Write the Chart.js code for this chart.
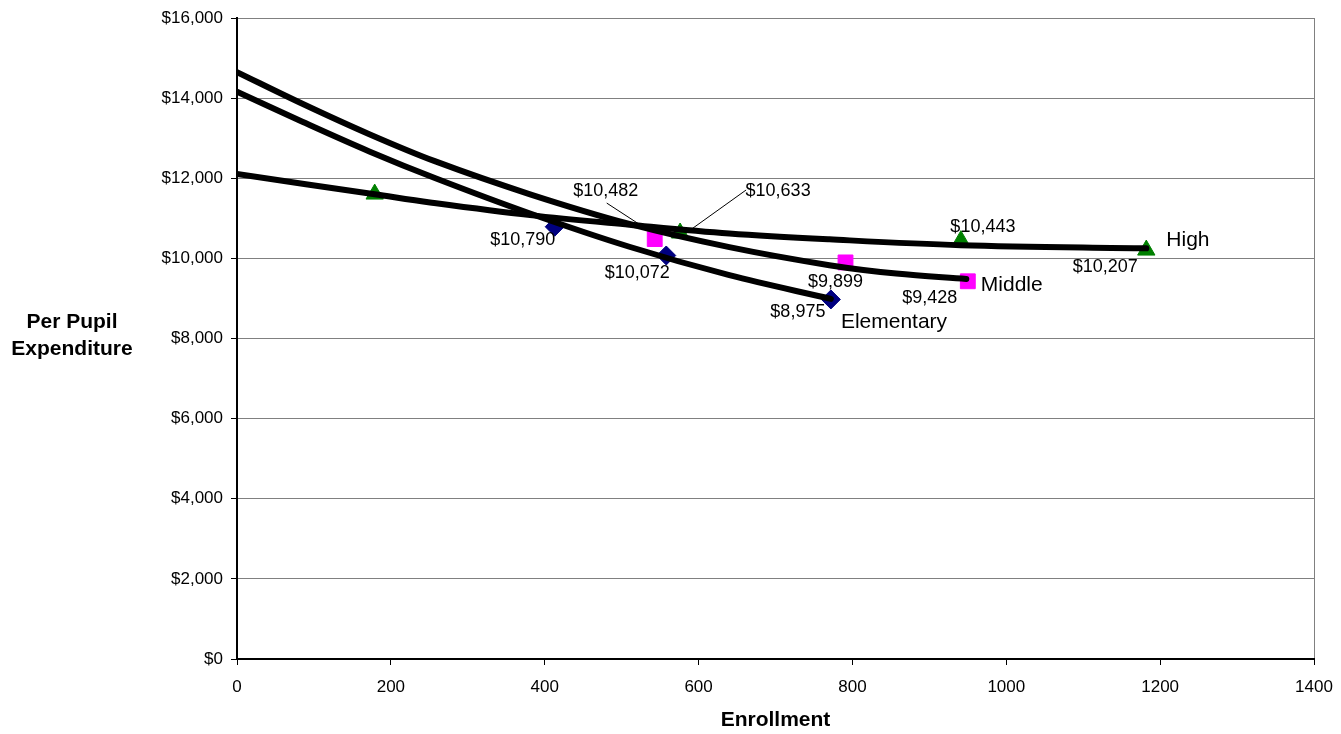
<!DOCTYPE html>
<html>
<head>
<meta charset="utf-8">
<script src="https://cdn.jsdelivr.net/npm/chart.js@4.4.1/dist/chart.umd.min.js"></script>
<style>
  html, body { margin: 0; padding: 0; background: #fff; }
</style>
</head>
<body>
<canvas id="myChart" width="1341" height="734"></canvas>
<script>
// school points
const enrollElem = [413, 558, 772];
const spendElem = [10790, 10072, 8975];
const enrollMid = [543, 791, 950];
const spendMid = [10482, 9899, 9428];
const enrollHigh = [179, 576, 941, 1182];
const spendHigh = [11605, 10633, 10443, 10207];

// trend lines
const trendElemX = [0, 85, 172, 258, 381, 510, 640, 772];
const trendElemY = [14160, 13410, 12670, 12000, 11120, 10290, 9580, 8989];
const trendMidX = [0, 85, 172, 258, 381, 510, 640, 770, 857, 948];
const trendMidY = [14650, 13860, 13100, 12420, 11600, 10860, 10280, 9830, 9620, 9487];
const trendHighX = [0, 179, 251, 381, 510, 640, 770, 941, 1182];
const trendHighY = [12104, 11600, 11396, 11080, 10840, 10620, 10475, 10330, 10250];

const yTicks = [0, 2000, 4000, 6000, 8000, 10000, 12000, 14000, 16000];
const xTicks = [0, 200, 400, 600, 800, 1000, 1200, 1400];

const FONT = '"Liberation Sans", Arial, sans-serif';

function pts(xs, ys) {
  return xs.map((x, i) => ({ x: x, y: ys[i] }));
}
function money(v) {
  return '$' + v.toLocaleString('en-US');
}

function trend(xs, ys) {
  return {
    data: pts(xs, ys),
    showLine: true,
    borderColor: '#000',
    borderWidth: 6,
    borderCapStyle: 'round',
    borderJoinStyle: 'round',
    pointRadius: 0,
    tension: 0.35
  };
}

const data = {
  datasets: [
    trend(trendElemX, trendElemY),
    trend(trendMidX, trendMidY),
    trend(trendHighX, trendHighY),
    {
      label: 'Elementary',
      data: pts(enrollElem, spendElem),
      pointStyle: 'rectRot',
      pointRadius: 9.5,
      backgroundColor: '#000080',
      borderColor: '#000080',
      borderWidth: 1
    },
    {
      label: 'Middle',
      data: pts(enrollMid, spendMid),
      pointStyle: 'rect',
      pointRadius: 10.5,
      backgroundColor: '#ff00ff',
      borderColor: '#ff00ff',
      borderWidth: 1
    },
    {
      label: 'High',
      data: pts(enrollHigh, spendHigh),
      pointStyle: 'triangle',
      pointRadius: 10,
      backgroundColor: '#008000',
      borderColor: '#008000',
      borderWidth: 1
    }
  ]
};

// label placement (pixel offsets from the marker)
const labelSetup = [
  { ds: 3, name: 'Elementary', nameOff: [10, 23],
    offs: [[-32, 13], [-29, 18], [-33, 13]], leaders: [null, null, null] },
  { ds: 4, name: 'Middle', nameOff: [13, 4],
    offs: [[-49, -48], [-10, 20], [-38, 17]], leaders: [[-48, -36, -5, -8], null, null] },
  { ds: 5, name: 'High', nameOff: [20, -10],
    offs: [null, [98, -42], [22, -14], [-41, 17]], leaders: [null, [66, -43, 6, 0], null, null] }
];

const labelPlugin = {
  id: 'pointLabels',
  afterDatasetsDraw(chart) {
    const ctx = chart.ctx;
    ctx.save();
    ctx.fillStyle = '#000';
    ctx.strokeStyle = '#000';
    ctx.lineWidth = 1;
    ctx.textBaseline = 'middle';
    labelSetup.forEach(s => {
      const meta = chart.getDatasetMeta(s.ds);
      const vals = chart.data.datasets[s.ds].data;
      meta.data.forEach((el, i) => {
        const ln = s.leaders[i];
        if (ln) {
          ctx.beginPath();
          ctx.moveTo(el.x + ln[0], el.y + ln[1]);
          ctx.lineTo(el.x + ln[2], el.y + ln[3]);
          ctx.stroke();
        }
        const o = s.offs[i];
        if (!o) return;
        ctx.font = '18px ' + FONT;
        ctx.textAlign = 'center';
        ctx.fillText(money(vals[i].y), el.x + o[0], el.y + o[1]);
      });
      const last = meta.data[meta.data.length - 1];
      ctx.font = '21px ' + FONT;
      ctx.textAlign = 'left';
      ctx.fillText(s.name, last.x + s.nameOff[0], last.y + s.nameOff[1]);
    });
    ctx.restore();
  },
  afterDraw(chart) {
    const ctx = chart.ctx;
    ctx.save();
    ctx.fillStyle = '#000';
    ctx.font = 'bold 21px ' + FONT;
    ctx.textAlign = 'center';
    ctx.textBaseline = 'alphabetic';
    ctx.fillText('Per Pupil', 72, 328);
    ctx.fillText('Expenditure', 72, 355);
    ctx.restore();
  }
};

const config = {
  type: 'scatter',
  data: data,
  options: {
    responsive: false,
    animation: false,
    layout: { padding: { left: 0, right: 27, top: 18, bottom: 0 } },
    plugins: {
      legend: { display: false },
      tooltip: { enabled: false }
    },
    scales: {
      x: {
        type: 'linear',
        min: 0,
        max: 1400,
        afterBuildTicks: s => { s.ticks = xTicks.map(v => ({ value: v })); },
        afterFit: s => {
          s.height = 75;
          s.paddingLeft = 0;
          s.paddingRight = 0;
        },
        ticks: {
          color: '#000',
          font: { family: FONT, size: 17 },
          padding: 12,
          callback: v => String(v)
        },
        grid: {
          color: c => (c.tick && c.tick.value === 1400 ? '#808080' : 'rgba(0,0,0,0)'),
          tickColor: '#000',
          tickLength: 6
        },
        border: { color: '#000', width: 2 },
        title: {
          display: true,
          text: 'Enrollment',
          color: '#000',
          font: { family: FONT, size: 21, weight: 'bold' },
          padding: { top: 0, bottom: 1 }
        }
      },
      y: {
        min: 0,
        max: 16000,
        afterBuildTicks: s => { s.ticks = yTicks.map(v => ({ value: v })); },
        afterFit: s => {
          s.width = 237;
          s.paddingTop = 0;
          s.paddingBottom = 0;
        },
        ticks: {
          color: '#000',
          font: { family: FONT, size: 17 },
          padding: 8,
          callback: v => money(v)
        },
        grid: { color: '#808080', tickColor: '#000', tickLength: 6 },
        border: { color: '#000', width: 2 }
      }
    }
  },
  plugins: [labelPlugin]
};

var ctx = document.getElementById('myChart');
var myChart = new Chart(ctx, config);
</script>
</body>
</html>
